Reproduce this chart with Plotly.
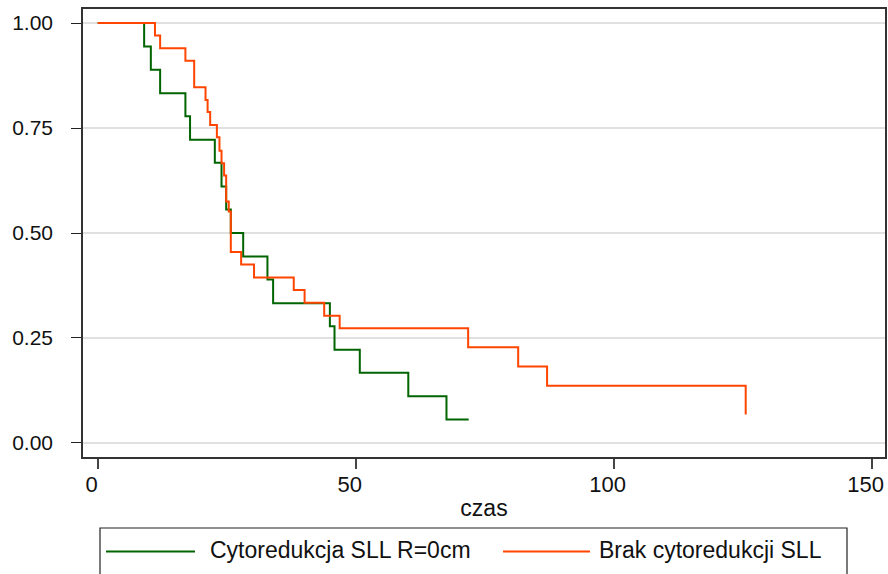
import plotly.graph_objects as go

# ---- data ----
green_name = "Cytoredukcja SLL R=0cm"
green_t = [0, 9.0, 10.3, 12.1, 17.0, 17.9, 22.7, 24.0, 24.9, 25.8, 28.2, 32.9, 34.0,
           45.0, 45.9, 50.8, 60.2, 67.6, 71.9]
green_s = [1.0, 0.944, 0.889, 0.833, 0.778, 0.722, 0.667, 0.611, 0.556, 0.5, 0.444,
           0.389, 0.333, 0.278, 0.222, 0.167, 0.111, 0.056, 0.056]

orange_name = "Brak cytoredukcji SLL"
orange_t = [0, 11.1, 12.1, 17.0, 18.7, 20.9, 21.3, 21.8, 23.1, 23.6, 24.0, 24.5, 24.9,
            25.4, 25.8, 27.8, 30.3, 38.0, 40.1, 43.9, 46.9, 71.8, 81.5, 87.1, 125.6]
orange_s = [1.0, 0.970, 0.940, 0.910, 0.847, 0.817, 0.788, 0.757, 0.728, 0.696, 0.666,
            0.637, 0.575, 0.551, 0.455, 0.425, 0.394, 0.364, 0.334, 0.303, 0.273,
            0.228, 0.182, 0.136, 0.068]

x_ticks = [0, 50, 100, 150]
y_ticks = [0, 0.25, 0.5, 0.75, 1.0]
x_title = "czas"

GREEN = "#006400"
ORANGE = "#ff4500"
FONT = "Liberation Sans, Arial, sans-serif"
TXT = 23
XTICK = 22
YTICK = 21

W, H = 888, 574
L, R, T, B = 83, 3, 9, 117
PW, PH = W - L - R, H - T - B


def px(x):
    return (x - L) / PW


def py(y):
    return (H - B - y) / PH


fig = go.Figure()
fig.add_trace(go.Scatter(x=green_t, y=green_s, mode="lines", name=green_name,
                         line=dict(color=GREEN, width=2, shape="hv")))
fig.add_trace(go.Scatter(x=orange_t, y=orange_s, mode="lines", name=orange_name,
                         line=dict(color=ORANGE, width=2, shape="hv")))

shapes = [
    dict(type="rect", xref="paper", yref="paper", x0=px(100), x1=px(847),
         y0=py(590), y1=py(528), line=dict(color="#222222", width=1.2),
         fillcolor="rgba(0,0,0,0)", layer="above"),
    dict(type="line", xref="paper", yref="paper", x0=px(106), x1=px(195),
         y0=py(551.5), y1=py(551.5), line=dict(color=GREEN, width=2)),
    dict(type="line", xref="paper", yref="paper", x0=px(503), x1=px(590),
         y0=py(551.5), y1=py(551.5), line=dict(color=ORANGE, width=2)),
]
annotations = [
    dict(xref="paper", yref="paper", x=px(208), y=py(550), text=green_name,
         showarrow=False, xanchor="left", yanchor="middle",
         font=dict(family=FONT, size=TXT, color="#111111")),
    dict(xref="paper", yref="paper", x=px(597), y=py(550), text=orange_name,
         showarrow=False, xanchor="left", yanchor="middle",
         font=dict(family=FONT, size=TXT, color="#111111")),
]

fig.update_layout(
    width=W, height=H,
    margin=dict(l=L, r=R, t=T, b=B, autoexpand=False),
    paper_bgcolor="white", plot_bgcolor="white",
    showlegend=False,
    font=dict(family=FONT, size=XTICK, color="#111111"),
    shapes=shapes, annotations=annotations,
    xaxis=dict(range=[-2.85, 152.6], tickvals=x_ticks, ticks="outside", ticklen=10,
               tickcolor="#444444", tickwidth=1.5, showgrid=False, zeroline=False,
               showline=True, linecolor="#333333", linewidth=1.5, mirror=True,
               title=dict(text=x_title, standoff=4, font=dict(size=TXT)),
               tickfont=dict(size=XTICK),
               ticklabelstandoff=-3, ticklabelshift=-6),
    yaxis=dict(range=[-0.0334, 1.0334], tickvals=y_ticks, tickformat=".2f",
               ticks="outside", ticklen=10, tickcolor="#222222", tickwidth=1.2,
               showgrid=True, gridcolor="#e0e0e0", gridwidth=2, zeroline=False,
               showline=True, linecolor="#333333", linewidth=1.5, mirror=True,
               tickfont=dict(size=YTICK), ticklabelstandoff=14),
)

fig.write_html("out.html")
